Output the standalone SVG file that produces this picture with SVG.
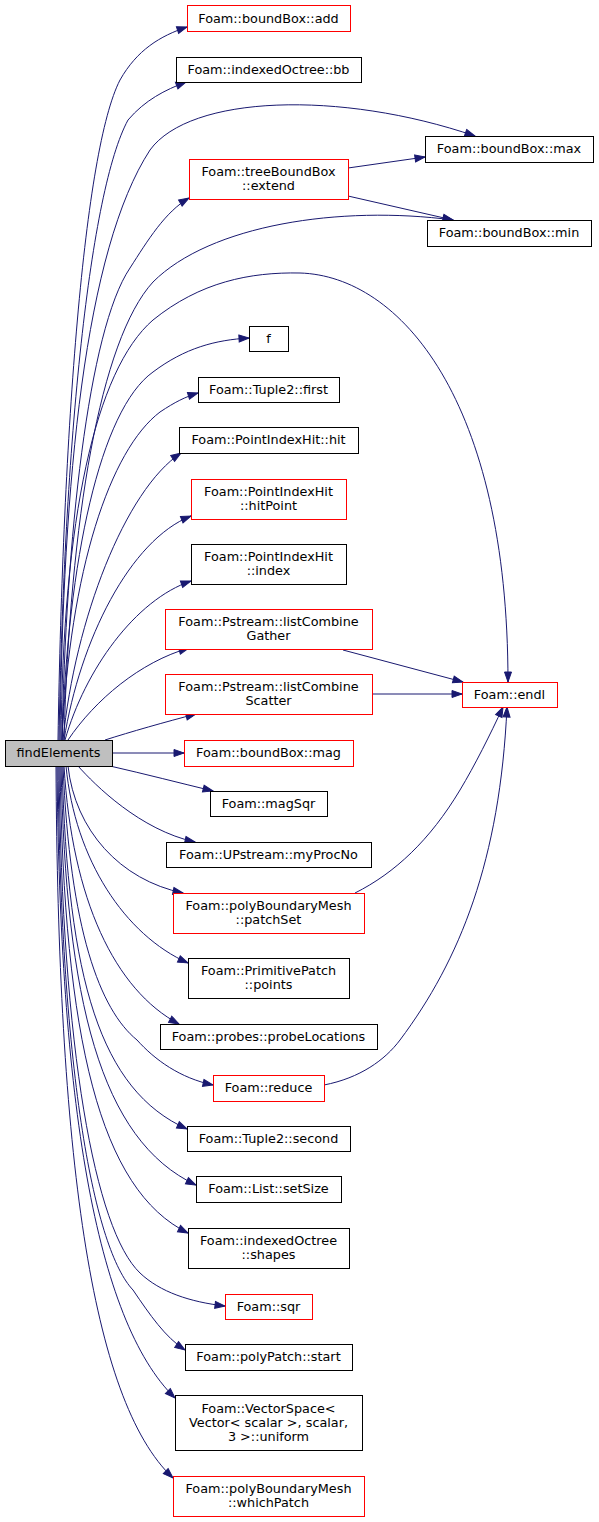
<svg xmlns="http://www.w3.org/2000/svg" width="599" height="1522" viewBox="0 0 599 1522">
<style>
.n rect{fill:#ffffff;stroke:#000000;stroke-width:1}
.n.r rect{stroke:#ff0000}
.n.root rect{fill:#bfbfbf;stroke:#000000}
.n text{font-family:"DejaVu Sans","Liberation Sans",sans-serif;font-size:12.8px;fill:#000000;text-anchor:middle}
#edges path{fill:none;stroke:#191970;stroke-width:1;marker-end:url(#ah)}
</style>
<defs>
<marker id="ah" markerUnits="userSpaceOnUse" markerWidth="11" markerHeight="8" refX="10" refY="3.5" orient="auto" overflow="visible">
<path d="M0,0 L10,3.5 L0,7 Z" fill="#191970" stroke="#191970" stroke-width="1"/>
</marker>
</defs>
<rect width="599" height="1522" fill="#ffffff"/>
<g id="edges">
<path d="M58,740 C63,430 84,150 120,80 C137,50 160,36 187,27"/>
<path d="M59,740 C64,440 90,190 128,120 C145,100 165,90 186,82"/>
<path d="M60,740 C63,480 85,250 150,150 C190,95 340,90 475,136"/>
<path d="M62,740 C66,540 88,330 130,268 C148,240 165,212 189,198"/>
<path d="M64,740 C70,520 100,340 153,282 C210,225 340,205 453,220"/>
<path d="M61,740 C63,520 95,370 153,320 C200,282 250,272 300,273 C400,276 508,400 508,682"/>
<path d="M62,740 C68,560 100,410 153,372 C185,348 215,340 249,338"/>
<path d="M62,740 C70,570 110,450 160,412 C175,402 185,397 198,393"/>
<path d="M63,740 C75,620 125,490 181,453"/>
<path d="M64,740 C80,640 130,540 191,516"/>
<path d="M65,740 C85,670 135,600 191,581"/>
<path d="M68,740 C95,700 140,662 189,648"/>
<path d="M105,740 C130,732 165,722 196,714"/>
<path d="M112,753 L184,753"/>
<path d="M110,766 C145,774 180,783 213,791"/>
<path d="M78,766 C95,785 140,830 195,842"/>
<path d="M68,766 C75,830 120,880 183,893"/>
<path d="M66,766 C75,860 125,935 188,963"/>
<path d="M64,766 C72,900 115,990 179,1024"/>
<path d="M63,766 C70,930 100,1010 137,1040 C155,1060 180,1078 213,1085"/>
<path d="M62,766 C68,980 100,1090 187,1129"/>
<path d="M61,766 C66,1000 100,1140 196,1185"/>
<path d="M60,766 C64,1040 100,1190 188,1233"/>
<path d="M59,766 C62,1050 95,1230 140,1273 C160,1292 190,1302 225,1306"/>
<path d="M58,766 C61,1080 95,1250 133,1290 C150,1315 165,1337 185,1350"/>
<path d="M57,766 C60,1100 95,1320 175,1398"/>
<path d="M56,766 C58,1150 90,1400 173,1478"/>
<path d="M348,168 L425,157"/>
<path d="M348,196 L453,220"/>
<path d="M343,650 L463,682"/>
<path d="M372,694 L462,694"/>
<path d="M355,893 C395,873 430,840 460,790 C475,765 490,735 503,707"/>
<path d="M324,1085 C360,1078 385,1060 400,1040 C460,960 500,860 507,707"/>
</g>
<g id="findElements" class="n root"><rect x="5.5" y="740.5" width="107" height="26"/><text x="58.5" y="757">findElements</text></g>
<g id="add" class="n r"><rect x="187.5" y="5.5" width="163" height="26"/><text x="268.5" y="22.5">Foam::boundBox::add</text></g>
<g id="bb" class="n"><rect x="176.5" y="57.5" width="185" height="25"/><text x="268.5" y="73.5">Foam::indexedOctree::bb</text></g>
<g id="max" class="n"><rect x="425.5" y="136.5" width="168" height="26"/><text x="509" y="153">Foam::boundBox::max</text></g>
<g id="extend" class="n r"><rect x="189.5" y="159.5" width="159" height="40"/><text x="268.5" y="176">Foam::treeBoundBox</text><text x="268.5" y="190">::extend</text></g>
<g id="min" class="n"><rect x="427.5" y="220.5" width="164" height="26"/><text x="509" y="237">Foam::boundBox::min</text></g>
<g id="f" class="n"><rect x="249.5" y="326.5" width="39" height="25"/><text x="268.5" y="342.5">f</text></g>
<g id="first" class="n"><rect x="198.5" y="377.5" width="141" height="25"/><text x="268.5" y="393.5">Foam::Tuple2::first</text></g>
<g id="hit" class="n"><rect x="179.5" y="427.5" width="179" height="26"/><text x="268.5" y="444">Foam::PointIndexHit::hit</text></g>
<g id="hitPoint" class="n r"><rect x="191.5" y="479.5" width="155" height="40"/><text x="268.5" y="496">Foam::PointIndexHit</text><text x="268.5" y="510">::hitPoint</text></g>
<g id="index" class="n"><rect x="191.5" y="544.5" width="155" height="40"/><text x="268.5" y="561">Foam::PointIndexHit</text><text x="268.5" y="575">::index</text></g>
<g id="listCombineGather" class="n r"><rect x="165.5" y="609.5" width="207" height="40"/><text x="268.5" y="626">Foam::Pstream::listCombine</text><text x="268.5" y="640">Gather</text></g>
<g id="listCombineScatter" class="n r"><rect x="165.5" y="674.5" width="207" height="40"/><text x="268.5" y="691">Foam::Pstream::listCombine</text><text x="268.5" y="705">Scatter</text></g>
<g id="endl" class="n r"><rect x="462.5" y="682.5" width="95" height="25"/><text x="509.5" y="698.5">Foam::endl</text></g>
<g id="mag" class="n r"><rect x="184.5" y="740.5" width="169" height="26"/><text x="268.5" y="757">Foam::boundBox::mag</text></g>
<g id="magSqr" class="n"><rect x="210.5" y="791.5" width="117" height="25"/><text x="268.5" y="807.5">Foam::magSqr</text></g>
<g id="myProcNo" class="n"><rect x="166.5" y="842.5" width="205" height="25"/><text x="268.5" y="858.5">Foam::UPstream::myProcNo</text></g>
<g id="patchSet" class="n r"><rect x="173.5" y="893.5" width="191" height="40"/><text x="268.5" y="910">Foam::polyBoundaryMesh</text><text x="268.5" y="924">::patchSet</text></g>
<g id="points" class="n"><rect x="188.5" y="958.5" width="161" height="40"/><text x="268.5" y="975">Foam::PrimitivePatch</text><text x="268.5" y="989">::points</text></g>
<g id="probeLocations" class="n"><rect x="160.5" y="1024.5" width="217" height="25"/><text x="268.5" y="1040.5">Foam::probes::probeLocations</text></g>
<g id="reduce" class="n r"><rect x="213.5" y="1075.5" width="111" height="26"/><text x="268.5" y="1092">Foam::reduce</text></g>
<g id="second" class="n"><rect x="187.5" y="1126.5" width="163" height="25"/><text x="268.5" y="1142.5">Foam::Tuple2::second</text></g>
<g id="setSize" class="n"><rect x="196.5" y="1176.5" width="145" height="26"/><text x="268.5" y="1193">Foam::List::setSize</text></g>
<g id="shapes" class="n"><rect x="188.5" y="1228.5" width="161" height="40"/><text x="268.5" y="1245">Foam::indexedOctree</text><text x="268.5" y="1259">::shapes</text></g>
<g id="sqr" class="n r"><rect x="225.5" y="1294.5" width="87" height="25"/><text x="268.5" y="1310.5">Foam::sqr</text></g>
<g id="start" class="n"><rect x="185.5" y="1344.5" width="167" height="26"/><text x="268.5" y="1361">Foam::polyPatch::start</text></g>
<g id="uniform" class="n"><rect x="175.5" y="1395.5" width="187" height="55"/><text x="268.5" y="1412.5">Foam::VectorSpace&lt;</text><text x="268.5" y="1426.5">Vector&lt; scalar &gt;, scalar,</text><text x="268.5" y="1440.5">3 &gt;::uniform</text></g>
<g id="whichPatch" class="n r"><rect x="173.5" y="1476.5" width="191" height="40"/><text x="268.5" y="1493">Foam::polyBoundaryMesh</text><text x="268.5" y="1507">::whichPatch</text></g>
</svg>
